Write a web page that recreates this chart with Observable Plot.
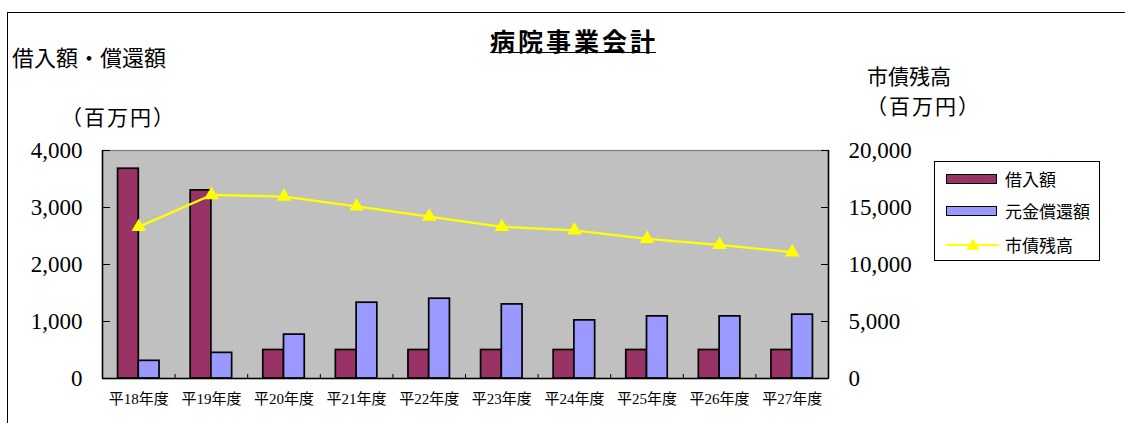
<!DOCTYPE html>
<html lang="ja">
<head>
<meta charset="utf-8">
<script src="https://cdn.jsdelivr.net/npm/d3@7"></script>
<script src="https://cdn.jsdelivr.net/npm/@observablehq/plot@0.6"></script>
<style>
  body { margin: 0; background: #fff; }
  #chart { position: relative; width: 1125px; height: 423px; overflow: hidden;
           font-family: "Noto Sans CJK JP", sans-serif; color: #000; }
  #chart > svg { position: absolute; left: 0; top: 0; }
  .txt { position: absolute; white-space: nowrap; line-height: 1; }
  .border-top { position: absolute; left: 7px; top: 12px; width: 1200px; height: 0; border-top: 1.3px solid #000; }
  .border-left { position: absolute; left: 7px; top: 12px; width: 0; height: 420px; border-left: 1.3px solid #000; }
  .title { left: 490px; top: 28px; font-size: 25px; font-weight: bold; letter-spacing: 3px; }
  .title-rule { position: absolute; left: 490px; top: 52px; width: 166px; height: 0; border-top: 1.6px solid #000; }
  .legend { position: absolute; left: 934px; top: 161px; width: 166px; height: 100px;
            border: 1px solid #000; background: #fff; box-sizing: border-box; }
  .legend .row { position: absolute; left: 0; height: 20px; width: 100%; }
  .legend .sw { position: absolute; left: 11px; top: 5px; width: 51px; height: 10px;
                box-sizing: border-box; border: 1.6px solid #000; }
  .legend .sym { position: absolute; left: 11px; top: 0; }
  .legend .lab { position: absolute; left: 70px; top: 1px; font-size: 17px; line-height: 1; white-space: nowrap; }
</style>
</head>
<body>
<div id="chart"></div>
<script>
// Fiscal years (Heisei 18–27)
const years = ["平18年度", "平19年度", "平20年度", "平21年度", "平22年度",
               "平23年度", "平24年度", "平25年度", "平26年度", "平27年度"];
// 借入額 (million yen)
const borrowing = [3680, 3300, 500, 500, 500, 500, 500, 500, 500, 500];
// 元金償還額 (million yen)
const repayment = [310, 450, 770, 1330, 1400, 1300, 1020, 1090, 1090, 1120];
// 市債残高 (million yen, right axis)
const bondBalance = [13300, 16100, 15950, 15100, 14200, 13300, 13000, 12250, 11730, 11080];

const leftTicks = [0, 1000, 2000, 3000, 4000];
const rightTicks = [0, 5000, 10000, 15000, 20000];
const seriesNames = ["借入額", "元金償還額", "市債残高"];
const colors = ["#993366", "#9999FF", "#FFFF00"];

// right axis spans 0–20,000 against the left 0–4,000
const ratio = rightTicks[rightTicks.length - 1] / leftTicks[leftTicks.length - 1];

const rows = years.map((year, i) => ({
  i, year, borrowing: borrowing[i], repayment: repayment[i], bond: bondBalance[i]
}));

const barW = 2 / 7; // each bar's share of a category slot
const boundaries = d3.range(years.length + 1).map(i => i - 0.5);
const fmt = d3.format(",");
const serif = "'Liberation Serif', 'Noto Sans CJK JP', serif";

const plot = Plot.plot({
  width: 1125,
  height: 423,
  marginLeft: 102,
  marginRight: 297,
  marginTop: 150,
  marginBottom: 45,
  x: {domain: [-0.5, years.length - 0.5]},
  y: {domain: [leftTicks[0], leftTicks[leftTicks.length - 1]]},
  style: {background: "transparent", fontFamily: serif, color: "#000", overflow: "visible"},
  marks: [
    Plot.frame({fill: "#C0C0C0", stroke: "#808080", strokeWidth: 1.3}),
    Plot.rect(rows, {x1: d => d.i - barW, x2: "i", y1: 0, y2: "borrowing",
                     fill: colors[0], stroke: "#000", strokeWidth: 1.7}),
    Plot.rect(rows, {x1: "i", x2: d => d.i + barW, y1: 0, y2: "repayment",
                     fill: colors[1], stroke: "#000", strokeWidth: 1.7}),
    Plot.line(rows, {x: "i", y: d => d.bond / ratio, stroke: colors[2], strokeWidth: 2.3}),
    Plot.dot(rows, {x: "i", y: d => d.bond / ratio, symbol: "triangle", r: 5.4,
                    fill: colors[2], stroke: "none"}),
    Plot.ruleX([boundaries[0], boundaries[boundaries.length - 1]], {stroke: "#000", strokeWidth: 1.5}),
    Plot.ruleY([0], {stroke: "#000", strokeWidth: 1.5}),
    Plot.axisY({anchor: "left", ticks: leftTicks, tickSize: -8, tickPadding: 28,
                tickFormat: fmt, fontSize: 23, label: null}),
    Plot.axisY({anchor: "right", ticks: rightTicks.map(v => v / ratio), tickSize: -8, tickPadding: 28,
                tickFormat: v => fmt(Math.round(v * ratio)), fontSize: 23, label: null}),
    Plot.axisX({ticks: boundaries, tickSize: -4, tickFormat: () => "", label: null}),
    Plot.axisX({ticks: d3.range(years.length), tickSize: 0, tickPadding: 15,
                tickFormat: i => years[i], fontSize: 15, label: null})
  ]
});

const chart = document.getElementById("chart");
chart.append(plot);

function addText(cls, text, style) {
  const el = document.createElement("div");
  el.className = "txt " + cls;
  el.textContent = text;
  Object.assign(el.style, style || {});
  chart.append(el);
  return el;
}

// outer frame edges
const bt = document.createElement("div"); bt.className = "border-top"; chart.append(bt);
const bl = document.createElement("div"); bl.className = "border-left"; chart.append(bl);

// title and axis captions
addText("title", "病院事業会計");
const rule = document.createElement("div"); rule.className = "title-rule"; chart.append(rule);
addText("", "借入額・償還額", {left: "12px", top: "45px", fontSize: "22px"});
addText("", "（百万円）", {left: "61px", top: "106px", fontSize: "21px", letterSpacing: "2px"});
addText("", "市債残高", {left: "867px", top: "65px", fontSize: "21px"});
addText("", "（百万円）", {left: "866px", top: "95px", fontSize: "21px", letterSpacing: "2px"});

// legend
const legend = document.createElement("div");
legend.className = "legend";
const rowTops = [7, 39, 73];
seriesNames.forEach((name, k) => {
  const row = document.createElement("div");
  row.className = "row";
  row.style.top = rowTops[k] + "px";
  if (k < 2) {
    const sw = document.createElement("div");
    sw.className = "sw";
    sw.style.background = colors[k];
    row.append(sw);
  } else {
    const ns = "http://www.w3.org/2000/svg";
    const svg = document.createElementNS(ns, "svg");
    svg.setAttribute("class", "sym");
    svg.setAttribute("width", 54);
    svg.setAttribute("height", 20);
    const ln = document.createElementNS(ns, "line");
    ln.setAttribute("x1", 0); ln.setAttribute("x2", 53);
    ln.setAttribute("y1", 10); ln.setAttribute("y2", 10);
    ln.setAttribute("stroke", colors[2]); ln.setAttribute("stroke-width", 2);
    const tri = document.createElementNS(ns, "path");
    tri.setAttribute("d", d3.symbol(d3.symbolTriangle, 75)());
    tri.setAttribute("transform", "translate(27,11)");
    tri.setAttribute("fill", colors[2]);
    svg.append(ln, tri);
    row.append(svg);
  }
  const lab = document.createElement("div");
  lab.className = "lab";
  lab.textContent = name;
  row.append(lab);
  legend.append(row);
});
chart.append(legend);
</script>
</body>
</html>
